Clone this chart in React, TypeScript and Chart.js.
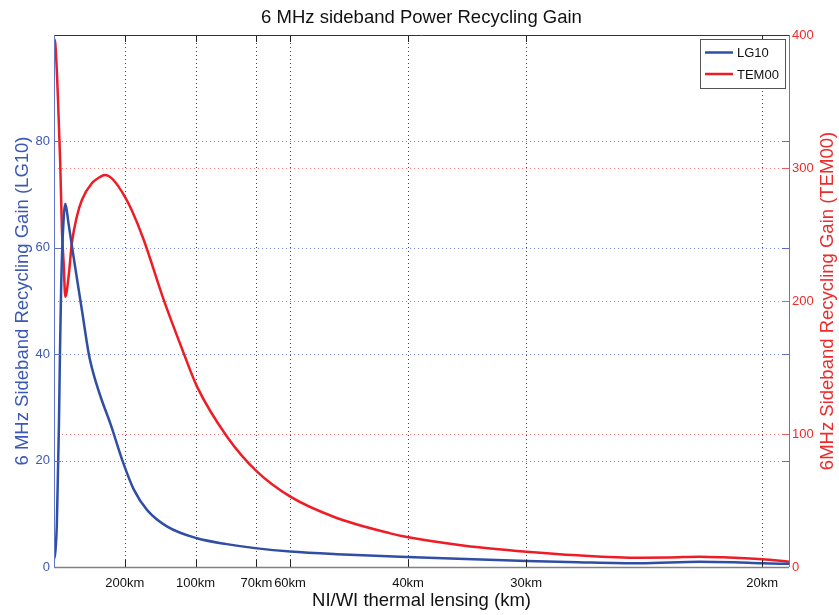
import { useEffect, useRef } from "react";
import { Chart, registerables } from "chart.js";

Chart.register(...registerables);

// Horizontal position: inverse thermal-lens focal length, 1000 / f[km]
const lgX = [0, 0.1, 0.2, 0.28, 0.35, 0.42, 0.5, 0.6, 0.8, 1.03, 1.4, 2.0, 2.46, 2.8, 3.29, 4.0, 4.82, 5.63, 6.58, 8.0, 10.1, 12.2, 14.34, 16.69, 20, 24.44, 28, 33.38, 37, 41.37, 45.6, 48, 50, 51.9];
const lgGain = [1.5, 3, 8, 18, 27, 40, 52, 61, 68.3, 64.5, 58, 47.8, 40, 36.2, 32, 26.8, 20.1, 14.6, 10.7, 7.6, 5.4, 4.3, 3.5, 2.9, 2.4, 1.93, 1.6, 1.15, 0.9, 0.7, 1.0, 0.9, 0.7, 0.6];

const temX = [0, 0.09, 0.275, 0.44, 0.56, 0.68, 0.8, 1.03, 1.26, 1.61, 1.97, 2.67, 3.2, 3.62, 4.1, 4.56, 5.0, 5.5, 6.34, 7.75, 9.16, 10.1, 12.22, 14.34, 16.69, 19.74, 23.74, 25.03, 29, 33.38, 37, 41.37, 43.5, 45.6, 47.22, 50, 51.9];
const temGain = [397, 393.8, 353.6, 303.5, 253.4, 228.6, 203.2, 218.3, 243.4, 263.4, 276, 288.5, 293, 294.7, 292, 286, 278.4, 268, 245.9, 200.8, 160.7, 135.6, 98, 71.7, 52.9, 37.8, 25.3, 22.3, 16, 11.5, 8.8, 7, 7.2, 7.8, 7.3, 5.8, 4];

const lensTicks = [5, 10, 1000 / 70, 1000 / 60, 25, 1000 / 30, 50];
const lensLabels = ["200km", "100km", "70km", "60km", "40km", "30km", "20km"];
const lgTicks = [0, 20, 40, 60, 80];
const temTicks = [0, 100, 200, 300, 400];

const FONT = "'Liberation Sans', Arial, Helvetica, sans-serif";
const BLUE = "#2f4ea4";
const BLUE_TEXT = "#3b58b4";
const RED = "#ee1c25";
const RED_TEXT = "#ee2a2a";

const decorPlugin = {
  id: "decor",
  beforeDatasetsDraw(chart: any) {
    const { ctx, chartArea: a, scales } = chart;
    ctx.save();
    ctx.lineWidth = 1;
    ctx.setLineDash([1, 3]);
    ctx.strokeStyle = "#444";
    for (const v of lensTicks) {
      const px = Math.round(scales.x.getPixelForValue(v)) + 0.5;
      ctx.beginPath();
      ctx.moveTo(px, a.top);
      ctx.lineTo(px, a.bottom);
      ctx.stroke();
    }
    ctx.strokeStyle = "#7d8fd6";
    for (const v of lgTicks.slice(1)) {
      const py = Math.round(scales.y.getPixelForValue(v)) + 0.5;
      ctx.beginPath();
      ctx.moveTo(a.left, py);
      ctx.lineTo(a.right, py);
      ctx.stroke();
    }
    ctx.strokeStyle = "#f28080";
    for (const v of temTicks.slice(1, 4)) {
      const py = Math.round(scales.y1.getPixelForValue(v)) + 0.5;
      ctx.beginPath();
      ctx.moveTo(a.left, py);
      ctx.lineTo(a.right, py);
      ctx.stroke();
    }
    ctx.restore();
  },
  afterDatasetsDraw(chart: any) {
    const { ctx, chartArea: a, scales } = chart;
    ctx.save();
    ctx.setLineDash([]);
    ctx.lineWidth = 1;
    // inner tick marks on the lensing axis (bottom and top)
    ctx.strokeStyle = "#222";
    for (const v of lensTicks) {
      const px = Math.round(scales.x.getPixelForValue(v)) + 0.5;
      ctx.beginPath();
      ctx.moveTo(px, a.bottom);
      ctx.lineTo(px, a.bottom - 7);
      ctx.moveTo(px, a.top);
      ctx.lineTo(px, a.top + 7);
      ctx.stroke();
    }
    // LG10 axis ticks on both sides
    ctx.strokeStyle = "#5b70c4";
    for (const v of lgTicks.slice(1)) {
      const py = Math.round(scales.y.getPixelForValue(v)) + 0.5;
      ctx.beginPath();
      ctx.moveTo(a.left, py);
      ctx.lineTo(a.left + 7, py);
      ctx.moveTo(a.right, py);
      ctx.lineTo(a.right - 7, py);
      ctx.stroke();
    }
    // TEM00 axis ticks
    ctx.strokeStyle = "#f05a5a";
    for (const v of temTicks.slice(1, 4)) {
      const py = Math.round(scales.y1.getPixelForValue(v)) + 0.5;
      ctx.beginPath();
      ctx.moveTo(a.right, py);
      ctx.lineTo(a.right - 7, py);
      ctx.stroke();
    }
    // frame
    ctx.strokeStyle = "#333";
    ctx.beginPath();
    ctx.moveTo(a.left, Math.round(a.top) + 0.5);
    ctx.lineTo(a.right, Math.round(a.top) + 0.5);
    ctx.stroke();
    ctx.strokeStyle = "#808080";
    ctx.lineWidth = 1.5;
    ctx.beginPath();
    ctx.moveTo(a.left, Math.round(a.bottom) + 0.5);
    ctx.lineTo(a.right, Math.round(a.bottom) + 0.5);
    ctx.stroke();
    ctx.lineWidth = 1;
    ctx.strokeStyle = "#6074c8";
    ctx.beginPath();
    ctx.moveTo(Math.round(a.left) + 0.5, a.top);
    ctx.lineTo(Math.round(a.left) + 0.5, a.bottom);
    ctx.stroke();
    ctx.strokeStyle = "#f04848";
    ctx.beginPath();
    ctx.moveTo(Math.round(a.right) + 0.5, a.top);
    ctx.lineTo(Math.round(a.right) + 0.5, a.bottom);
    ctx.stroke();

    // legend
    const lx = 700.5, ly = 39.5, lw = 85, lh = 49;
    ctx.fillStyle = "#fff";
    ctx.fillRect(lx, ly, lw, lh);
    ctx.strokeStyle = "#555";
    ctx.lineWidth = 1;
    ctx.strokeRect(lx, ly, lw, lh);
    ctx.font = `13px ${FONT}`;
    ctx.textBaseline = "middle";
    ctx.textAlign = "left";
    const rows = [
      { label: "LG10", color: BLUE, y: 52.5 },
      { label: "TEM00", color: RED, y: 74 },
    ];
    for (const r of rows) {
      ctx.strokeStyle = r.color;
      ctx.lineWidth = 2.5;
      ctx.beginPath();
      ctx.moveTo(705, r.y);
      ctx.lineTo(733, r.y);
      ctx.stroke();
      ctx.fillStyle = "#111";
      ctx.fillText(r.label, 737, r.y + 1);
    }
    ctx.restore();
  },
  afterDraw(chart: any) {
    const { ctx, chartArea: a } = chart;
    const cy = (a.top + a.bottom) / 2;
    ctx.save();
    ctx.font = `18.5px ${FONT}`;
    ctx.textAlign = "center";
    ctx.textBaseline = "alphabetic";
    ctx.fillStyle = "#111";
    ctx.fillText("6 MHz sideband Power Recycling Gain", (a.left + a.right) / 2, 23);
    ctx.fillText("NI/WI thermal lensing (km)", (a.left + a.right) / 2, 606);

    ctx.fillStyle = BLUE_TEXT;
    ctx.translate(28, cy);
    ctx.rotate(-Math.PI / 2);
    ctx.fillText("6 MHz Sideband Recycling Gain (LG10)", 0, 0);
    ctx.restore();

    ctx.save();
    ctx.font = `18.5px ${FONT}`;
    ctx.textAlign = "center";
    ctx.textBaseline = "alphabetic";
    ctx.fillStyle = RED_TEXT;
    ctx.translate(833, cy);
    ctx.rotate(-Math.PI / 2);
    ctx.fillText("6MHz Sideband Recycling Gain (TEM00)", 0, 0);
    ctx.restore();
  },
};

export default function App() {
  const canvasRef = useRef<HTMLCanvasElement>(null);

  useEffect(() => {
    if (!canvasRef.current) return;
    const chart = new Chart(canvasRef.current, {
      type: "line",
      data: {
        datasets: [
          {
            label: "LG10",
            data: lgX.map((x, i) => ({ x, y: lgGain[i] })),
            borderColor: BLUE,
            borderWidth: 2.5,
            pointRadius: 0,
            cubicInterpolationMode: "monotone",
            yAxisID: "y",
            fill: false,
          },
          {
            label: "TEM00",
            data: temX.map((x, i) => ({ x, y: temGain[i] })),
            borderColor: RED,
            borderWidth: 2.5,
            pointRadius: 0,
            cubicInterpolationMode: "monotone",
            yAxisID: "y1",
            fill: false,
          },
        ],
      },
      options: {
        responsive: false,
        animation: false,
        layout: { padding: { top: 35, left: 0, right: 0, bottom: 0 } },
        plugins: {
          legend: { display: false },
          title: { display: false },
          tooltip: { enabled: false },
        },
        scales: {
          x: {
            type: "linear",
            min: 0,
            max: 51.9,
            afterBuildTicks: (s: any) => {
              s.ticks = lensTicks.map((v) => ({ value: v }));
            },
            afterFit: (s: any) => {
              s.height = 48;
            },
            ticks: {
              autoSkip: false,
              maxRotation: 0,
              padding: 9,
              color: "#111",
              font: { family: FONT, size: 13 },
              callback: (v: any) => {
                const i = lensTicks.findIndex((t) => Math.abs(t - Number(v)) < 1e-6);
                return i >= 0 ? lensLabels[i] : "";
              },
            },
            grid: { display: false, drawTicks: false },
            border: { display: false },
          },
          y: {
            type: "linear",
            position: "left",
            min: 0,
            max: 100,
            afterBuildTicks: (s: any) => {
              s.ticks = lgTicks.map((v) => ({ value: v }));
            },
            afterFit: (s: any) => {
              s.width = 54;
            },
            ticks: {
              padding: 4,
              color: BLUE_TEXT,
              font: { family: FONT, size: 13 },
            },
            grid: { display: false, drawTicks: false },
            border: { display: false },
          },
          y1: {
            type: "linear",
            position: "right",
            min: 0,
            max: 400,
            afterBuildTicks: (s: any) => {
              s.ticks = temTicks.map((v) => ({ value: v }));
            },
            afterFit: (s: any) => {
              s.width = 50;
            },
            ticks: {
              padding: 3,
              color: RED_TEXT,
              font: { family: FONT, size: 13 },
            },
            grid: { display: false, drawTicks: false },
            border: { display: false },
          },
        },
      },
      plugins: [decorPlugin],
    });
    return () => chart.destroy();
  }, []);

  return (
    <div style={{ position: "fixed", left: 0, top: 0, width: 839, height: 615, background: "#fff" }}>
      <canvas ref={canvasRef} width={839} height={615} style={{ width: 839, height: 615, display: "block" }} />
    </div>
  );
}
